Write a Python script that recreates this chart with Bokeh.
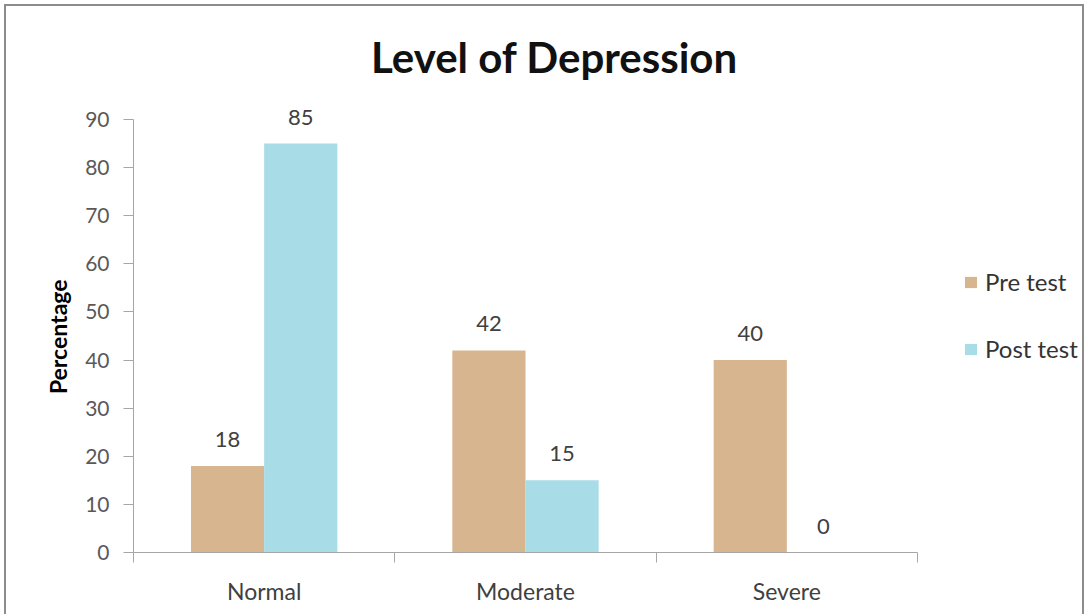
from bokeh.plotting import figure
from bokeh.models import (ColumnDataSource, Range1d, LinearAxis,
                          FixedTicker, LabelSet, Legend, LegendItem, Label)
from bokeh.core.properties import value
from bokeh.transform import dodge
from bokeh.embed import file_html
from bokeh.resources import INLINE

categories = ["Normal", "Moderate", "Severe"]
pre_test = [18, 42, 40]
post_test = [85, 15, 0]
y_ticks = [0, 10, 20, 30, 40, 50, 60, 70, 80, 90]
series_names = ["Pre test", "Post test"]
title_text = "Level of Depression"
y_label = "Percentage"

PRE_COLOR = "#D7B58E"
POST_COLOR = "#A8DCE7"
FONT = "Lato"

n = len(categories)
centers = [i + 0.5 for i in range(n)]
edges = [float(i) for i in range(n + 1)]
Y_AXIS_MAX = 90

# layout (pixels) — frame is widened so labels/legend/title are not clipped
W, H = 1088, 614
F_LEFT, F_RIGHT, F_TOP, F_BOTTOM = 133, 1084, 20, 552
AXIS_RIGHT, AXIS_TOP = 917, 119
x_end = n * (F_RIGHT - F_LEFT) / (AXIS_RIGHT - F_LEFT)
y_end = Y_AXIS_MAX * (F_BOTTOM - F_TOP) / (F_BOTTOM - AXIS_TOP)

src = ColumnDataSource(dict(
    x=centers,
    cat=categories,
    pre=pre_test,
    post=post_test,
    pre_lbl=[str(v) for v in pre_test],
    post_lbl=[str(v) for v in post_test],
))

p = figure(width=W, height=H,
           x_range=Range1d(0, x_end), y_range=Range1d(0, y_end),
           output_backend="svg", toolbar_location=None,
           x_axis_location=None,
           min_border_left=F_LEFT, min_border_right=W - F_RIGHT,
           min_border_top=F_TOP, min_border_bottom=H - F_BOTTOM)
p.border_fill_alpha = 0
p.background_fill_alpha = 0
p.styles = {"box-shadow": ("inset 4px 4px 0 0 #ffffff, inset -4px 0 0 0 #ffffff, "
                           "inset 6px 6px 0 0 #8c8c8c, inset -6px 0 0 0 #8c8c8c")}

p.xgrid.grid_line_color = None
p.ygrid.grid_line_color = None
p.outline_line_color = None

# y axis
yax = p.yaxis[0]
yax.bounds = (0, Y_AXIS_MAX)
yax.ticker = FixedTicker(ticks=y_ticks)
yax.major_label_text_font = FONT
yax.major_label_text_font_size = "21px"
yax.major_label_text_color = "#595959"
yax.major_tick_out = 10
yax.major_tick_in = 0
yax.minor_tick_line_color = None
yax.axis_line_color = "#A6A6A6"
yax.major_tick_line_color = "#A6A6A6"
yax.major_label_standoff = 14
# trailing no-break spaces shift the label down to centre it on the 0-90 axis
yax.axis_label = y_label + "\u00a0" * 18
yax.axis_label_text_font = FONT
yax.axis_label_text_font_style = "bold"
yax.axis_label_text_font_size = "23px"
yax.axis_label_text_color = "#000000"
yax.axis_label_standoff = 10

# x axis: category labels at centres, boundary ticks as minor ticks
overrides = {}
for c, name in zip(centers, categories):
    overrides[c] = name
    overrides[str(c)] = name
cat_axis = LinearAxis(ticker=FixedTicker(ticks=centers, minor_ticks=edges), bounds=(0, n),
                      major_label_overrides=overrides,
                      axis_line_color="#A6A6A6",
                      major_tick_line_color=None, major_tick_out=0, major_tick_in=0,
                      minor_tick_line_color="#A6A6A6", minor_tick_out=10, minor_tick_in=0,
                      major_label_text_font=FONT, major_label_text_font_size="23px",
                      major_label_text_color="#404040", major_label_standoff=14)
p.add_layout(cat_axis, "below")

r_pre = p.vbar(x=dodge("x", -0.14), top="pre", width=0.28, source=src,
               fill_color=PRE_COLOR, line_color=None)
r_post = p.vbar(x=dodge("x", 0.14), top="post", width=0.28, source=src,
                fill_color=POST_COLOR, line_color=None)

for off, col in [(-0.14, "pre"), (0.14, "post")]:
    p.add_layout(LabelSet(x=dodge("x", off), y=col, text=col + "_lbl",
                          source=src, y_offset=19, text_align="center",
                          text_baseline="alphabetic",
                          text_font=value(FONT), text_font_size="22px", text_color="#404040"))

legend = Legend(items=[LegendItem(label=series_names[0], renderers=[r_pre]),
                       LegendItem(label=series_names[1], renderers=[r_post])],
                location=(830, 189), glyph_width=15, glyph_height=14,
                label_height=26,
                label_text_font=FONT, label_text_font_size="24px", label_text_color="#333333",
                label_standoff=7, spacing=38, padding=0, margin=0,
                border_line_color=None, background_fill_alpha=0)
p.add_layout(legend)

p.add_layout(Label(x=421, y=496, x_units="screen", y_units="screen", text=title_text,
                   text_font=FONT, text_font_size="42px", text_font_style="bold",
                   text_align="center", text_baseline="alphabetic", text_color="#111111"))

open("out.html", "w").write(file_html(p, INLINE))
